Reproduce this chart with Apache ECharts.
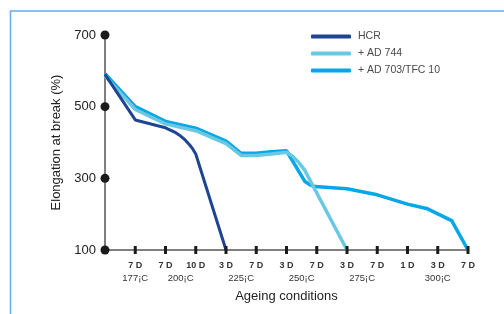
<!DOCTYPE html>
<html>
<head>
<meta charset="utf-8">
<script src="https://cdn.jsdelivr.net/npm/echarts@6/dist/echarts.min.js"></script>
<style>
  html, body { margin: 0; padding: 0; background: #fff; }
  #chart { width: 504px; height: 314px; }
</style>
</head>
<body>
<div id="chart"></div>
<script>
// day labels under ticks 1..12
const dayLabels = ['7 D', '7 D', '10 D', '3 D', '7 D', '3 D', '7 D', '3 D', '7 D', '1 D', '3 D', '7 D']
// temperature labels and where they sit on the x scale
const tempLabels = ['177¡C', '200¡C', '225¡C', '250¡C', '275¡C', '300¡C']
const tempPositions = [1, 2.5, 4.5, 6.5, 8.5, 11]
const yTicks = [100, 300, 500, 700]
const xTicks = [1, 2, 3, 4, 5, 6, 7, 8, 9, 10, 11, 12]

// [x position, elongation %]
const hcr = [[0, 590], [1, 463], [2, 441], [2.3, 429], [2.5, 418], [2.65, 407], [2.8, 393], [2.9, 382],
  [3, 368], [4, 100]]
const ad744 = [[0, 586], [1, 492], [2, 452], [3, 433], [4, 397], [4.5, 364], [5, 364], [5.5, 368], [6, 373],
  [6.2, 362], [6.4, 345], [6.6, 323], [8, 100]]
const ad703 = [[0, 592], [1, 500], [2, 459], [3, 440], [4, 404], [4.5, 370], [5, 370], [5.5, 374], [6, 377],
  [6.61, 291], [6.8, 281], [6.94, 277], [8, 271], [9, 254], [10, 228], [10.63, 216], [11.46, 182], [12, 100]]

const font = '"Liberation Sans", Arial, Helvetica, sans-serif'

const chart = echarts.init(document.getElementById('chart'))

chart.setOption({
  animation: false,
  textStyle: { fontFamily: font },
  graphic: [
    {
      type: 'rect',
      shape: { x: 10.5, y: 11, width: 600, height: 400 },
      style: { fill: 'none', stroke: '#6aaae8', lineWidth: 1.5 },
      silent: true
    }
  ],
  legend: {
    orient: 'vertical',
    left: 306,
    top: 25,
    itemWidth: 40,
    itemHeight: 4,
    itemGap: 4,
    icon: 'roundRect',
    data: ['HCR', '+ AD 744', '+ AD 703/TFC 10'],
    textStyle: { fontSize: 10.5, color: '#4a4a4a', lineHeight: 13, padding: [0, 0, 0, 2] }
  },
  grid: { left: 105, right: 36, top: 35, bottom: 64 },
  xAxis: [
    {
      type: 'value',
      min: 0,
      max: 12,
      interval: 1,
      name: 'Ageing conditions',
      nameLocation: 'middle',
      nameGap: 40,
      nameTextStyle: { fontSize: 13, color: '#222' },
      axisLine: { show: true, onZero: false, lineStyle: { color: '#555', width: 1.5 } },
      axisTick: { show: false },
      splitLine: { show: false },
      axisLabel: {
        margin: 11,
        fontSize: 9,
        fontWeight: 'bold',
        color: '#333',
        formatter: v => (v >= 1 ? dayLabels[v - 1] : '')
      }
    },
    {
      type: 'value',
      min: 0,
      max: 12,
      position: 'bottom',
      axisLine: { show: false },
      axisTick: { show: false },
      splitLine: { show: false },
      axisLabel: {
        customValues: tempPositions,
        margin: 23,
        fontSize: 9.5,
        color: '#333',
        formatter: v => tempLabels[tempPositions.indexOf(v)] || ''
      }
    }
  ],
  yAxis: {
    type: 'value',
    min: 100,
    max: 700,
    interval: 200,
    name: 'Elongation at break (%)',
    nameLocation: 'middle',
    nameGap: 41,
    nameTextStyle: { fontSize: 13, color: '#222' },
    axisLine: { show: true, lineStyle: { color: '#555', width: 1.5 } },
    axisTick: { show: false },
    splitLine: { show: false },
    axisLabel: { fontSize: 13, color: '#222', margin: 9 }
  },
  series: [
    {
      name: '+ AD 703/TFC 10',
      type: 'line',
      data: ad703,
      showSymbol: false,
      clip: false,
      itemStyle: { color: '#06a7e6' },
      lineStyle: { color: '#06a7e6', width: 3.5 },
      z: 3
    },
    {
      name: '+ AD 744',
      type: 'line',
      data: ad744,
      showSymbol: false,
      clip: false,
      itemStyle: { color: '#69c9e2' },
      lineStyle: { color: '#69c9e2', width: 3.5 },
      z: 4
    },
    {
      name: 'HCR',
      type: 'line',
      data: hcr,
      showSymbol: false,
      clip: false,
      itemStyle: { color: '#1e4592' },
      lineStyle: { color: '#1e4592', width: 3 },
      z: 5
    },
    {
      name: 'xticks',
      type: 'scatter',
      data: xTicks.map(x => [x, 100]),
      symbol: 'rect',
      symbolSize: [3, 8],
      clip: false,
      silent: true,
      itemStyle: { color: '#1a1a1a', opacity: 1 },
      z: 6
    },
    {
      name: 'yticks',
      type: 'scatter',
      data: yTicks.map(y => [0, y]),
      symbol: 'circle',
      symbolSize: 9,
      clip: false,
      silent: true,
      itemStyle: { color: '#1a1a1a', opacity: 1 },
      z: 6
    }
  ]
})
</script>
</body>
</html>
